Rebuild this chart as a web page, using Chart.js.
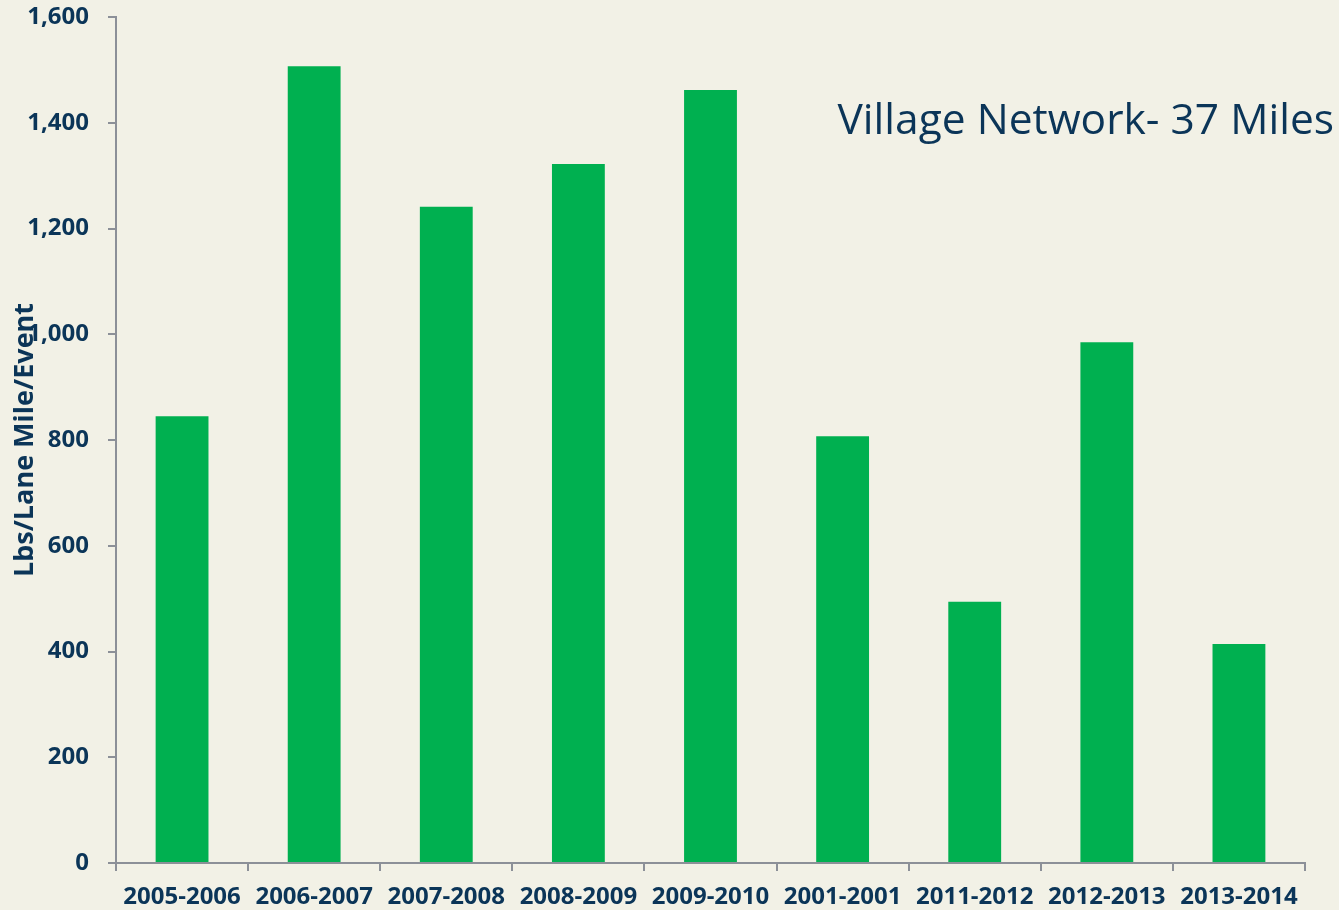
<!DOCTYPE html>
<html><head><meta charset="utf-8">
<script src="https://cdn.jsdelivr.net/npm/chart.js@4"></script>
<style>html,body{margin:0;padding:0;background:#F2F1E6;}#wrap{width:1339px;height:910px;}</style>
</head><body><div id="wrap"><canvas id="c" width="1339" height="910"></canvas></div>
<script>
const categories = ["2005-2006","2006-2007","2007-2008","2008-2009","2009-2010","2001-2001","2011-2012","2012-2013","2013-2014"];
const values = [845, 1507, 1241, 1322, 1462, 807, 494, 985, 414];
const yTicks = [0,200,400,600,800,1000,1200,1400,1600];
const titleText = "Village Network- 37 Miles";
const yTitle = "Lbs/Lane Mile/Event";

const navy = "#0B3558";
const axisGrey = "#8C9098";
const fontFam = "'Open Sans', 'Noto Sans', sans-serif";

const titlePlugin = {
  id: 'inTitle',
  afterDraw(chart) {
    const ctx = chart.ctx;
    ctx.save();
    ctx.fillStyle = navy;
    ctx.font = "42.5px " + fontFam;
    ctx.textAlign = "right";
    ctx.textBaseline = "alphabetic";
    ctx.fillText(titleText, 1334, 134);
    ctx.restore();
  }
};

new Chart(document.getElementById('c'), {
  type: 'bar',
  data: { labels: categories, datasets: [{ data: values, backgroundColor: '#00B050', barPercentage: 0.4, categoryPercentage: 1.0 }] },
  options: {
    responsive: false, animation: false,
    layout: { padding: { top: 17, right: 34, left: 0, bottom: 0 } },
    plugins: { legend: { display: false }, tooltip: { enabled: false } },
    scales: {
      x: {
        grid: { drawOnChartArea: false, drawTicks: true, tickLength: 8, color: axisGrey, lineWidth: 2 },
        border: { color: axisGrey, width: 2 },
        ticks: { color: navy, font: { family: fontFam, size: 24, weight: 'bold' }, padding: 12, maxRotation: 0, autoSkip: false },
        afterFit(s) { s.height = 47; s.paddingLeft = 0; s.paddingRight = 0; }
      },
      y: {
        min: 0, max: 1600,
        afterBuildTicks(s) { s.ticks = yTicks.map(v => ({ value: v })); },
        grid: { drawOnChartArea: false, drawTicks: true, tickLength: 8, color: axisGrey, lineWidth: 2 },
        border: { color: axisGrey, width: 2 },
        ticks: { color: navy, font: { family: fontFam, size: 24, weight: 'bold' }, padding: 19,
          callback: v => v.toLocaleString('en-US') },
        title: { display: true, text: yTitle, color: navy, font: { family: fontFam, size: 27, weight: 'bold' }, padding: { top: 9, bottom: 0 } },
        afterFit(s) { s.width = 116; s.paddingTop = 0; s.paddingBottom = 0; }
      }
    }
  },
  plugins: [titlePlugin]
});
</script></body></html>
